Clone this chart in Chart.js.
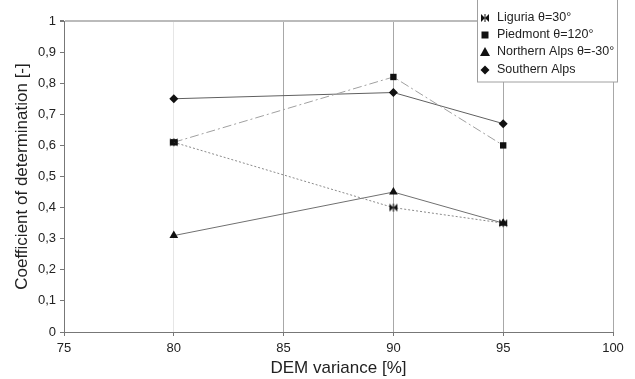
<!DOCTYPE html>
<html>
<head>
<meta charset="utf-8">
<script src="https://cdn.jsdelivr.net/npm/chart.js@4.4.1/dist/chart.umd.min.js"></script>
<style>
  html, body { margin: 0; padding: 0; background: #fff; }
  #wrap { width: 635px; height: 379px; }
</style>
</head>
<body>
<div id="wrap"><canvas id="chart" width="635" height="379"></canvas></div>
<script>
const demVariance = [80, 90, 95];
const liguria = [0.61, 0.40, 0.35];
const piedmont = [0.61, 0.82, 0.60];
const northernAlps = [0.31, 0.45, 0.35];
const southernAlps = [0.75, 0.77, 0.67];
const seriesNames = ["Liguria θ=30°", "Piedmont θ=120°", "Northern Alps θ=-30°", "Southern Alps"];

// bowtie marker for Liguria
const bowtie = document.createElement("canvas");
bowtie.width = 10;
bowtie.height = 10;
(() => {
  const c = bowtie.getContext("2d");
  c.fillStyle = "#111";
  c.beginPath();
  c.moveTo(1, 1); c.lineTo(5, 5); c.lineTo(1, 9); c.closePath();
  c.moveTo(9, 1); c.lineTo(5, 5); c.lineTo(9, 9); c.closePath();
  c.fill();
  c.fillRect(4.5, 1, 1, 8);
})();

const pts = (ys) => demVariance.map((x, i) => ({ x: x, y: ys[i] }));

const datasets = [
  { label: seriesNames[0], data: pts(liguria), borderColor: "#8a8a8a", borderDash: [2, 2],
    pointStyle: bowtie, pointRadius: 5 },
  { label: seriesNames[1], data: pts(piedmont), borderColor: "#a0a0a0", borderDash: [9, 3, 2, 3],
    pointStyle: "rect", pointRadius: 4.5 },
  { label: seriesNames[2], data: pts(northernAlps), borderColor: "#707070",
    pointStyle: "triangle", pointRadius: 5 },
  { label: seriesNames[3], data: pts(southernAlps), borderColor: "#606060",
    pointStyle: "rectRot", pointRadius: 4.5 },
].map((d) => Object.assign({
  borderWidth: 1,
  pointBackgroundColor: "#111",
  pointBorderColor: "#111",
  pointBorderWidth: 0,
  tension: 0,
  fill: false,
}, d));

function drawMarker(ctx, style, x, y) {
  ctx.save();
  ctx.fillStyle = "#111";
  ctx.beginPath();
  if (style === "rect") {
    ctx.rect(x - 3.5, y - 3.5, 7, 7);
  } else if (style === "triangle") {
    ctx.moveTo(x, y - 5); ctx.lineTo(x + 5, y + 4); ctx.lineTo(x - 5, y + 4); ctx.closePath();
  } else if (style === "rectRot") {
    ctx.moveTo(x, y - 4.5); ctx.lineTo(x + 4.5, y); ctx.lineTo(x, y + 4.5); ctx.lineTo(x - 4.5, y); ctx.closePath();
  }
  ctx.fill();
  if (style instanceof HTMLCanvasElement) ctx.drawImage(style, x - 5, y - 5);
  ctx.restore();
}

const boxLegend = {
  id: "boxLegend",
  afterDraw(chart) {
    const ctx = chart.ctx;
    ctx.save();
    ctx.fillStyle = "#fff";
    ctx.fillRect(477, -1, 140, 83);
    ctx.strokeStyle = "#a0a0a0";
    ctx.lineWidth = 1;
    ctx.strokeRect(477.5, -1, 140, 83);
    ctx.font = "12.5px 'Liberation Sans', Arial, sans-serif";
    ctx.fillStyle = "#222";
    ctx.textBaseline = "middle";
    const rows = [18, 35, 52, 70];
    chart.data.datasets.forEach((ds, i) => {
      drawMarker(ctx, ds.pointStyle, 485, rows[i]);
      ctx.fillText(ds.label, 497, rows[i]);
    });
    ctx.restore();
  },
};

new Chart(document.getElementById("chart"), {
  type: "line",
  data: { datasets: datasets },
  plugins: [boxLegend],
  options: {
    responsive: false,
    animation: false,
    layout: { padding: { top: 21, right: 22, left: 0, bottom: 0 } },
    plugins: { legend: { display: false }, tooltip: { enabled: false } },
    scales: {
      x: {
        type: "linear",
        min: 75,
        max: 100,
        afterFit: (s) => { s.height = 47; },
        ticks: { stepSize: 5, color: "#222", padding: 5,
          font: { family: "'Liberation Sans', Arial, sans-serif", size: 13 } },
        grid: {
          color: (c) => (c.tick && c.tick.value === 80 ? "#e6e6e6" : "#a8a8a8"),
          tickColor: "#777",
          tickLength: 4,
        },
        border: { display: true, color: "#777" },
        title: { display: true, text: "DEM variance [%]", color: "#222", padding: { top: 5, bottom: 0 },
          font: { family: "'Liberation Sans', Arial, sans-serif", size: 17 } },
      },
      y: {
        min: 0,
        max: 1,
        afterFit: (s) => { s.width = 64; },
        ticks: { stepSize: 0.1, color: "#222", padding: 4,
          font: { family: "'Liberation Sans', Arial, sans-serif", size: 13 } ,
          callback: (v) => (v === 0 || v === 1 ? String(v) : v.toFixed(1).replace(".", ",")) },
        grid: {
          color: (c) => (c.tick && c.tick.value === 1 ? "#bbbbbb" : "rgba(0,0,0,0)"),
          lineWidth: (c) => (c.tick && c.tick.value === 1 ? 2 : 1),
          tickColor: "#777",
          tickLength: 4,
        },
        border: { display: true, color: "#777" },
        title: { display: true, text: "Coefficient of determination [-]", color: "#222",
          padding: { top: 12, bottom: 2 },
          font: { family: "'Liberation Sans', Arial, sans-serif", size: 17 } },
      },
    },
  },
});
</script>
</body>
</html>
